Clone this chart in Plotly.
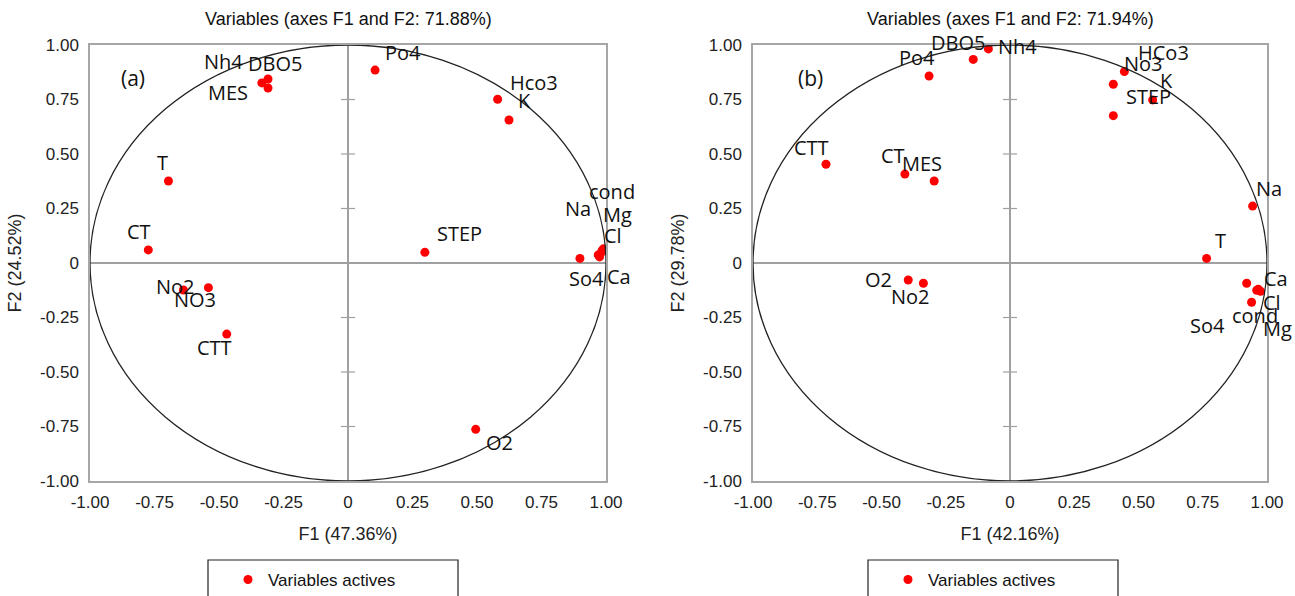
import plotly.graph_objects as go

# ---------------- data ----------------
names_a = ["Nh4", "DBO5", "MES", "T", "CT", "No2", "NO3", "CTT", "Po4", "Hco3", "K",
           "STEP", "So4", "Na", "cond", "Mg", "Cl", "Ca", "O2"]
f1_a = [-0.334, -0.310, -0.310, -0.696, -0.774, -0.638, -0.541, -0.470, 0.105, 0.580, 0.624,
        0.298, 0.899, 0.970, 0.990, 0.985, 0.983, 0.975, 0.495]
f2_a = [0.826, 0.844, 0.803, 0.376, 0.060, -0.124, -0.113, -0.326, 0.885, 0.751, 0.656,
        0.049, 0.021, 0.037, 0.065, 0.058, 0.050, 0.028, -0.763]

names_b = ["DBO5", "Nh4", "Po4", "CTT", "CT", "MES", "HCo3", "No3", "K", "STEP", "Na", "T",
           "Ca", "Cl", "Mg", "cond", "So4", "O2", "No2"]
f1_b = [-0.143, -0.084, -0.315, -0.716, -0.409, -0.295, 0.445, 0.402, 0.555, 0.402, 0.944, 0.765,
        0.921, 0.966, 0.975, 0.960, 0.940, -0.396, -0.337]
f2_b = [0.934, 0.982, 0.858, 0.453, 0.408, 0.376, 0.878, 0.820, 0.748, 0.676, 0.261, 0.021,
        -0.093, -0.120, -0.130, -0.125, -0.180, -0.078, -0.093]

tick_vals = [-1.0, -0.75, -0.5, -0.25, 0.0, 0.25, 0.5, 0.75, 1.0]
tick_text = ["-1.00", "-0.75", "-0.50", "-0.25", "0", "0.25", "0.50", "0.75", "1.00"]

title_a = "Variables (axes F1 and F2: 71.88%)"
title_b = "Variables (axes F1 and F2: 71.94%)"
xtitle_a, ytitle_a = "F1 (47.36%)", "F2 (24.52%)"
xtitle_b, ytitle_b = "F1 (42.16%)", "F2 (29.78%)"
legend_name = "Variables actives"

# ---------------- style: label offsets in pixels (dx, up) ----------------
off_a = {"Nh4": (-38, 21), "DBO5": (7, 16), "MES": (-40, -5), "T": (-6, 19), "CT": (-9, 18),
         "No2": (-8, 4), "NO3": (-13, -12), "CTT": (-12, -13), "Po4": (28, 18), "Hco3": (36, 17),
         "K": (16, 19), "STEP": (35, 19), "So4": (7, -20), "Na": (-20, 46), "cond": (9, 57),
         "Mg": (15, 36), "Cl": (11, 17), "Ca": (19, -20), "O2": (24, -13)}
off_b = {"DBO5": (-15, 17), "Nh4": (29, 2), "Po4": (-12, 18), "CTT": (-14, 17), "CT": (-12, 19),
         "MES": (-12, 18), "HCo3": (39, 19), "No3": (30, 21), "K": (14, 19), "STEP": (35, 19),
         "Na": (16, 18), "T": (14, 18), "Ca": (29, 5), "Cl": (14, -13), "Mg": (17, -37),
         "cond": (-2, -25), "So4": (-44, -23), "O2": (-30, 1), "No2": (-13, -13)}

W, H = 1295, 596
ML, MR, MT, MB = 90, 28, 45, 115
PW, PH = W - ML - MR, H - MT - MB


def px_to_paper_x(px):
    return (px - ML) / PW


def px_to_paper_y(py):
    return (H - MB - py) / PH


RED = "#ff0000"
label_font = dict(family="Open Sans", size=20, color="#111111")
tick_font = dict(family="Liberation Sans", size=17, color="#222222")
title_font = dict(family="Liberation Sans", size=18, color="#111111")
axis_title_font = dict(family="Liberation Sans", size=18, color="#222222")

fig = go.Figure()
fig.add_trace(go.Scatter(x=f1_a, y=f2_a, mode="markers", name=legend_name,
                         marker=dict(color=RED, size=9), xaxis="x", yaxis="y",
                         legend="legend", showlegend=True, hovertext=names_a))
fig.add_trace(go.Scatter(x=f1_b, y=f2_b, mode="markers", name=legend_name,
                         marker=dict(color=RED, size=9), xaxis="x2", yaxis="y2",
                         legend="legend2", showlegend=True, hovertext=names_b))

axis_common = dict(range=[-1, 1], showgrid=False, zeroline=True, zerolinecolor="#a0a0a0",
                   zerolinewidth=1.5, showline=True, mirror=True, linecolor="#a6a6a6",
                   linewidth=1.5, tickvals=tick_vals, ticktext=tick_text, ticks="",
                   tickfont=tick_font, fixedrange=True)

dom_a = [0, px_to_paper_x(606)]
dom_b = [px_to_paper_x(753), 1.0]

legend_font = dict(family="Liberation Sans", size=17, color="#111111")
fig.update_layout(
    width=W, height=H, showlegend=True,
    margin=dict(l=ML, r=MR, t=MT, b=MB, autoexpand=False),
    plot_bgcolor="white", paper_bgcolor="white",
    xaxis=dict(axis_common, domain=dom_a, anchor="y", ticklabelstandoff=5,
               title=dict(text=xtitle_a, font=axis_title_font, standoff=16)),
    yaxis=dict(axis_common, domain=[0, 1], anchor="x", ticklabelstandoff=6,
               title=dict(text=ytitle_a, font=axis_title_font, standoff=14)),
    xaxis2=dict(axis_common, domain=dom_b, anchor="y2", ticklabelstandoff=5,
                title=dict(text=xtitle_b, font=axis_title_font, standoff=16)),
    yaxis2=dict(axis_common, domain=[0, 1], anchor="x2", ticklabelstandoff=6,
                title=dict(text=ytitle_b, font=axis_title_font, standoff=14)),
    legend=dict(x=px_to_paper_x(228), y=px_to_paper_y(580), xanchor="left", yanchor="middle",
                xref="paper", yref="paper", bgcolor="rgba(0,0,0,0)", borderwidth=0,
                font=legend_font, visible=True),
    legend2=dict(x=px_to_paper_x(888), y=px_to_paper_y(580), xanchor="left", yanchor="middle",
                 xref="paper", yref="paper", bgcolor="rgba(0,0,0,0)", borderwidth=0,
                 font=legend_font, visible=True),
)

shapes = []
for xr, yr in (("x", "y"), ("x2", "y2")):
    shapes.append(dict(type="circle", xref=xr, yref=yr, x0=-1, y0=-1, x1=1, y1=1,
                       line=dict(color="#222222", width=1.3), layer="above"))
    for v in tick_vals[1:-1]:
        if v == 0:
            continue
        shapes.append(dict(type="line", xref=xr, yref=yr, xsizemode="pixel", xanchor=0,
                           x0=-7, x1=7, y0=v, y1=v, line=dict(color="#a0a0a0", width=1.2)))
# legend boxes
for left in (208, 868):
    shapes.append(dict(type="rect", xref="paper", yref="paper",
                       x0=px_to_paper_x(left), x1=px_to_paper_x(left + 250),
                       y0=px_to_paper_y(605), y1=px_to_paper_y(560),
                       line=dict(color="#222222", width=1.2), fillcolor="rgba(0,0,0,0)"))
fig.update_layout(shapes=shapes)

ann = []
for names, xs, ys, offs, xr, yr in ((names_a, f1_a, f2_a, off_a, "x", "y"),
                                    (names_b, f1_b, f2_b, off_b, "x2", "y2")):
    for n, xv, yv in zip(names, xs, ys):
        dx, up = offs[n]
        ann.append(dict(x=xv, y=yv, xref=xr, yref=yr, text=n, showarrow=False,
                        xanchor="center", yanchor="middle",
                        xshift=dx, yshift=up, font=label_font))
# subplot titles and panel letters
for t, cx in ((title_a, 348), (title_b, 1010)):
    ann.append(dict(x=px_to_paper_x(cx), y=px_to_paper_y(19), xref="paper", yref="paper",
                    xanchor="center", yanchor="middle",
                    text=t, showarrow=False, font=title_font))
for t, cx in (("(a)", 133), ("(b)", 810)):
    ann.append(dict(x=px_to_paper_x(cx), y=px_to_paper_y(78), xref="paper", yref="paper",
                    xanchor="center", yanchor="middle",
                    text=t, showarrow=False, font=dict(family="Open Sans", size=21, color="#111111")))
fig.update_layout(annotations=ann)

fig.write_html("out.html")
